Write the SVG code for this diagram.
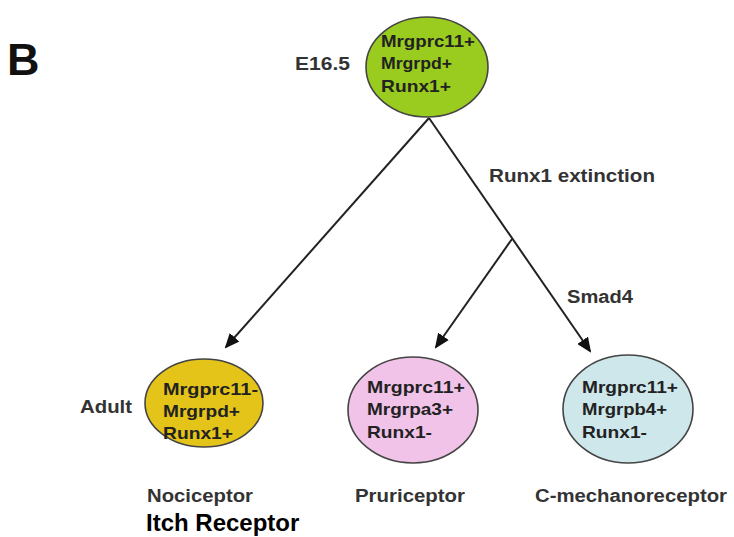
<svg xmlns="http://www.w3.org/2000/svg" width="734" height="537" viewBox="0 0 734 537">
<style>
.n{stroke:#444;stroke-width:1.6}
.t{font-family:"Liberation Sans",Arial,sans-serif;font-weight:bold;font-size:17px;fill:#222}
.l{font-family:"Liberation Sans",Arial,sans-serif;font-weight:bold;font-size:18px;fill:#333}
.c{stroke:#222;stroke-width:2;fill:none}
</style>
<defs>
<marker id="ah" markerWidth="15" markerHeight="13" refX="13" refY="6.5" orient="auto" markerUnits="userSpaceOnUse" viewBox="0 0 15 13">
<path d="M0,0 L15,6.5 L0,13 Z" fill="#111"/>
</marker>
</defs>
<rect width="734" height="537" fill="#fff"/>
<text x="7" y="75" style="font-family:'Liberation Sans',Arial,sans-serif;font-weight:bold;font-size:45px;fill:#111">B</text>
<g id="connectors">
<line class="c" x1="429" y1="118" x2="226" y2="347" marker-end="url(#ah)"/>
<line class="c" x1="429" y1="118" x2="590" y2="351" marker-end="url(#ah)"/>
<line class="c" x1="512" y1="239" x2="436" y2="347" marker-end="url(#ah)"/>
</g>
<g id="e165">
<ellipse class="n" cx="427" cy="67" rx="61" ry="50" fill="#9acb1f"/>
<text class="t" x="381" y="47" textLength="94" lengthAdjust="spacingAndGlyphs">Mrgprc11+</text>
<text class="t" x="381" y="69" textLength="71" lengthAdjust="spacingAndGlyphs">Mrgrpd+</text>
<text class="t" x="381" y="92" textLength="70" lengthAdjust="spacingAndGlyphs">Runx1+</text>
</g>
<g id="nociceptor">
<ellipse class="n" cx="204" cy="403" rx="59" ry="44" fill="#e5c419"/>
<text class="t" x="163" y="395" textLength="95" lengthAdjust="spacingAndGlyphs">Mrgprc11-</text>
<text class="t" x="163" y="417" textLength="77" lengthAdjust="spacingAndGlyphs">Mrgrpd+</text>
<text class="t" x="163" y="439" textLength="70" lengthAdjust="spacingAndGlyphs">Runx1+</text>
</g>
<g id="pruriceptor">
<ellipse class="n" cx="413" cy="410" rx="65" ry="53" fill="#f1c3e8"/>
<text class="t" x="367" y="393" textLength="98" lengthAdjust="spacingAndGlyphs">Mrgprc11+</text>
<text class="t" x="367" y="415" textLength="86" lengthAdjust="spacingAndGlyphs">Mrgrpa3+</text>
<text class="t" x="367" y="438" textLength="65" lengthAdjust="spacingAndGlyphs">Runx1-</text>
</g>
<g id="cmech">
<ellipse class="n" cx="628" cy="409" rx="65" ry="54" fill="#cde7eb"/>
<text class="t" x="582" y="393" textLength="96" lengthAdjust="spacingAndGlyphs">Mrgprc11+</text>
<text class="t" x="582" y="415" textLength="85" lengthAdjust="spacingAndGlyphs">Mrgrpb4+</text>
<text class="t" x="582" y="438" textLength="65" lengthAdjust="spacingAndGlyphs">Runx1-</text>
</g>
<text class="l" x="295" y="70" textLength="55" lengthAdjust="spacingAndGlyphs">E16.5</text>
<text class="l" x="80" y="413" textLength="52" lengthAdjust="spacingAndGlyphs">Adult</text>
<text class="l" x="489" y="182" textLength="166" lengthAdjust="spacingAndGlyphs">Runx1 extinction</text>
<text class="l" x="567" y="303" textLength="66" lengthAdjust="spacingAndGlyphs">Smad4</text>
<text class="l" x="147" y="502" textLength="106" lengthAdjust="spacingAndGlyphs">Nociceptor</text>
<text style="font-family:'Liberation Sans',Arial,sans-serif;font-weight:bold;font-size:24px;fill:#000" x="146" y="531">Itch Receptor</text>
<text class="l" x="355" y="502" textLength="110" lengthAdjust="spacingAndGlyphs">Pruriceptor</text>
<text class="l" x="535" y="502" textLength="192" lengthAdjust="spacingAndGlyphs">C-mechanoreceptor</text>
</svg>
